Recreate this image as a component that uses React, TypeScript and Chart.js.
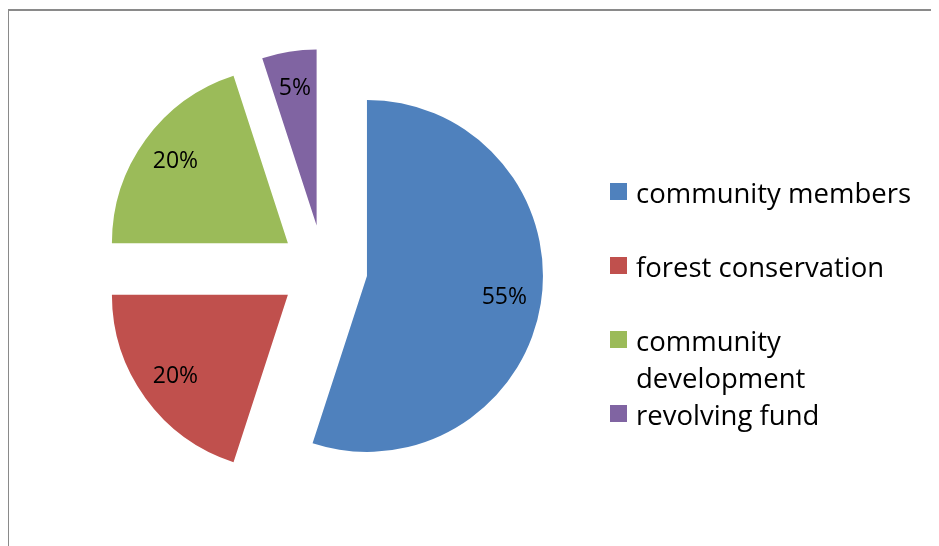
import { useEffect, useRef } from 'react';
import { Chart, registerables } from 'chart.js';

Chart.register(...registerables);

const categories = ['community members', 'forest conservation', 'community development', 'revolving fund'];
const shares = [55, 20, 20, 5];
const colors = ['#4F81BD', '#C0504D', '#9BBB59', '#8064A2'];

const EXPLODE = 44;
const RADIUS = 176;
const LABEL_POS = 0.79;
const FONT = "'Open Sans', sans-serif";

const explodePlugin = {
  id: 'explodeSlices',
  afterDatasetUpdate(chart: any, args: any) {
    const meta = chart.getDatasetMeta(args.index);
    meta.data.forEach((arc: any) => {
      const mid = (arc.startAngle + arc.endAngle) / 2;
      arc.x += Math.cos(mid) * EXPLODE;
      arc.y += Math.sin(mid) * EXPLODE;
    });
  },
};

const labelPlugin = {
  id: 'sliceLabels',
  afterDatasetsDraw(chart: any) {
    const ctx = chart.ctx;
    const meta = chart.getDatasetMeta(0);
    const values = chart.data.datasets[0].data as number[];
    const total = values.reduce((a, b) => a + b, 0);
    ctx.save();
    ctx.font = `23px ${FONT}`;
    ctx.fillStyle = '#000';
    ctx.textAlign = 'center';
    ctx.textBaseline = 'middle';
    meta.data.forEach((arc: any, i: number) => {
      const mid = (arc.startAngle + arc.endAngle) / 2;
      const r = arc.outerRadius * LABEL_POS;
      const pct = Math.round((values[i] / total) * 100) + '%';
      ctx.fillText(pct, arc.x + Math.cos(mid) * r, arc.y + Math.sin(mid) * r);
    });
    ctx.restore();
  },
};

export default function App() {
  const ref = useRef<HTMLCanvasElement>(null);
  useEffect(() => {
    document.body.style.overflow = 'hidden';
    const chart = new Chart(ref.current!, {
      type: 'pie',
      data: {
        labels: categories,
        datasets: [
          {
            data: shares,
            backgroundColor: colors,
            borderWidth: 0,
            hoverOffset: 0,
          },
        ],
      },
      options: {
        responsive: false,
        animation: false,
        radius: RADIUS,
        events: [],
        layout: { padding: { left: 0, right: 300, top: 0, bottom: 16 } },
        plugins: { legend: { display: false }, tooltip: { enabled: false } },
      } as any,
      plugins: [explodePlugin, labelPlugin],
    });
    return () => chart.destroy();
  }, []);

  return (
    <div style={{ position: 'relative', width: 931, height: 538 }}>
      <div
        style={{
          position: 'absolute',
          left: -1,
          top: 1,
          width: 960,
          height: 560,
          borderTop: '2px solid #8a8a8a',
          borderLeft: '2px solid #8a8a8a',
        }}
      />
      <canvas ref={ref} width={931} height={538} style={{ position: 'absolute', left: 0, top: 0, display: 'block' }} />
      <div
        style={{
          position: 'absolute',
          left: 602,
          top: 165.5,
          width: 330,
          fontFamily: FONT,
          fontSize: 27.5,
          lineHeight: '37px',
          color: '#000',
        }}
      >
        {categories.map((c, i) => (
          <div key={c} style={{ display: 'flex', alignItems: 'flex-start', marginBottom: i < 2 ? 37 : 0 }}>
            <span style={{ width: 17, height: 17, background: colors[i], marginTop: 9, marginRight: 9, flex: 'none' }} />
            <span style={{ width: 290 }}>{c}</span>
          </div>
        ))}
      </div>
    </div>
  );
}
